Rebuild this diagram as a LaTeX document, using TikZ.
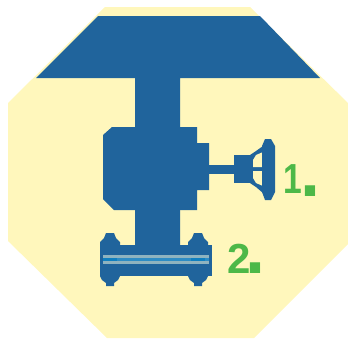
\documentclass[tikz,border=0pt]{standalone}
\usepackage{fontspec}
\setmainfont{Liberation Sans}
\definecolor{creamy}{HTML}{FFF7BC}
\definecolor{valveblue}{HTML}{20649C}
\definecolor{pipelight}{HTML}{8FB3BF}
\definecolor{pipemid}{HTML}{2E8CC4}
\definecolor{pipecyan}{HTML}{0F7FBF}
\definecolor{labelgreen}{HTML}{4DB848}
\newcommand{\labeldot}[2]{\hspace{#1}\raisebox{#2}{\fontsize{72}{72}\selectfont.}}
\tikzset{
  valve/.style={fill=valveblue,draw=none},
  numlabel/.style={text=labelgreen,font=\fontsize{42}{42}\selectfont\bfseries,inner sep=0pt,anchor=base west},
}
\begin{document}
\begin{tikzpicture}[x=1pt,y=-1pt]
\useasboundingbox (0,0) rectangle (348,338);
% octagon
\fill[creamy] (105,7) -- (250,7) -- (348,103) -- (348,244) -- (254,338) -- (107,338) -- (8,241) -- (8,103) -- cycle;
% top plate and stem
\path[valve] (98,16) -- (260,16) -- (320,78) -- (180,78) -- (180,245) -- (135,245) -- (135,78) -- (36,78) -- cycle;
% body
\path[valve] (112,127) -- (197,127) -- (197,143) -- (209,143) -- (209,190) -- (197,190) -- (197,210) -- (114,210) -- (103,199) -- (103,135) -- cycle;
% shaft and hand wheel
\path[valve] (209,165) rectangle (234,174);
\path[valve] (234,155) rectangle (250,183);
\path[valve] (250,155) -- (256,151) -- (263,146) -- (263,193) -- (256,187) -- (250,183) -- cycle;
\fill[creamy] (253,160) -- (256,155) -- (263,152) -- (263,167) -- (253,167) -- cycle;
\fill[creamy] (253,171) -- (263,171) -- (263,186) -- (256,183) -- (253,178) -- cycle;
\path[valve] (265,139) -- (271,139) -- (275,146) -- (275,192) -- (271,200) -- (265,200) -- (262,192) -- (262,146) -- cycle;
% flanges
\path[valve] (100,245) rectangle (212,276);
\fill[pipelight] (103,255) rectangle (209,258);
\fill[pipelight] (103,261) rectangle (209,264);
\fill[pipemid] (103,258) rectangle (209,261);
% bolts
\foreach \bx in {110,198}{
  \path[valve] (\bx-4,233) -- (\bx+4,233) -- (\bx+6,238) -- (\bx+10,242) -- (\bx+10,245) -- (\bx-10,245) -- (\bx-10,242) -- (\bx-6,238) -- cycle;
  \path[valve] (\bx-10,276) -- (\bx+10,276) -- (\bx+8,280) -- (\bx+4,283) -- (\bx+4,286) -- (\bx-4,286) -- (\bx-4,283) -- (\bx-8,280) -- cycle;
  \fill[pipecyan] (\bx-7,258) rectangle (\bx+7,261);
}
% labels
\node[numlabel] (one) at (283,193) {\scalebox{.8}[1]{1}\labeldot{-1.5pt}{-3pt}};
\node[numlabel] (two) at (227,273) {2\labeldot{-5pt}{0pt}};
\end{tikzpicture}
\end{document}
